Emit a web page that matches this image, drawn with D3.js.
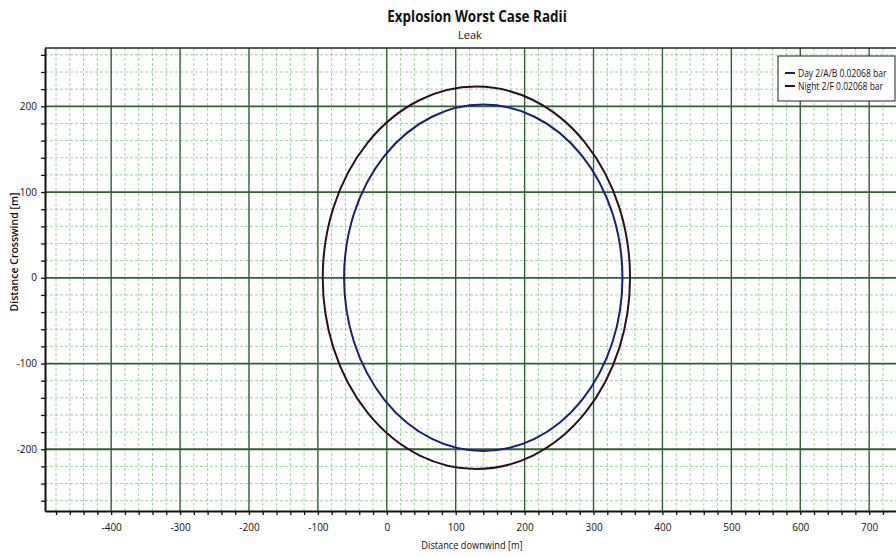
<!DOCTYPE html>
<html>
<head>
<meta charset="utf-8">
<script src="https://cdn.jsdelivr.net/npm/d3@7"></script>
<style>
  body { margin: 0; background: #fff; }
  text { font-family: "Open Sans", "DejaVu Sans", sans-serif; fill: #111; }
</style>
</head>
<body>
<svg width="896" height="557"></svg>
<script>
// Explosion worst case radii, two weather cases
const seriesNames = ["Day 2/A/B 0.02068 bar", "Night 2/F 0.02068 bar"];
const centerDownwind = [140, 130];
const centerCrosswind = [0, 0];
const radii = [202, 223];
const seriesColors = ["#1c1c7c", "#2c0f22"];

const xMajor = [-400, -300, -200, -100, 0, 100, 200, 300, 400, 500, 600, 700];
const yMajor = [-200, -100, 0, 100, 200];

const svg = d3.select("svg");
const plotLeft = 45, plotRight = 905, plotTop = 48, plotBottom = 511;

const x = d3.scaleLinear().domain([-496, 752]).range([plotLeft, plotRight]);
const y = d3.scaleLinear().domain([-272, 268]).range([plotBottom, plotTop]);

svg.append("clipPath").attr("id", "plot")
  .append("rect").attr("x", plotLeft).attr("y", plotTop)
  .attr("width", plotRight - plotLeft).attr("height", plotBottom - plotTop);

const minorX = d3.range(-480, 752, 20);
const minorY = d3.range(-260, 268, 20);

const grid = svg.append("g").attr("clip-path", "url(#plot)");

grid.selectAll(".mx").data(minorX.filter(d => d % 100 !== 0)).enter()
  .append("line")
  .attr("x1", d => x(d)).attr("x2", d => x(d))
  .attr("y1", plotTop).attr("y2", plotBottom)
  .attr("stroke", "#9ed49e").attr("stroke-width", 1)
  .attr("stroke-dasharray", "3,2");

grid.selectAll(".my").data(minorY.filter(d => d % 100 !== 0)).enter()
  .append("line")
  .attr("y1", d => y(d)).attr("y2", d => y(d))
  .attr("x1", plotLeft).attr("x2", plotRight)
  .attr("stroke", "#9ed49e").attr("stroke-width", 1)
  .attr("stroke-dasharray", "3,2");

grid.selectAll(".Mx").data(xMajor).enter()
  .append("line")
  .attr("x1", d => x(d)).attr("x2", d => x(d))
  .attr("y1", plotTop).attr("y2", plotBottom)
  .attr("stroke", "#2f5f33").attr("stroke-width", 1.4);

grid.selectAll(".My").data(yMajor).enter()
  .append("line")
  .attr("y1", d => y(d)).attr("y2", d => y(d))
  .attr("x1", plotLeft).attr("x2", plotRight)
  .attr("stroke", "#2f5f33").attr("stroke-width", 1.8);

// radii
grid.selectAll(".radius").data(seriesNames).enter()
  .append("ellipse")
  .attr("cx", (d, i) => x(centerDownwind[i]))
  .attr("cy", (d, i) => y(centerCrosswind[i]))
  .attr("rx", (d, i) => x(centerDownwind[i] + radii[i]) - x(centerDownwind[i]))
  .attr("ry", (d, i) => y(centerCrosswind[i]) - y(centerCrosswind[i] + radii[i]))
  .attr("fill", "none")
  .attr("stroke", (d, i) => seriesColors[i])
  .attr("stroke-width", 2);

// border
svg.append("line").attr("x1", plotLeft).attr("x2", plotRight).attr("y1", plotTop).attr("y2", plotTop)
  .attr("stroke", "#222").attr("stroke-width", 1.5);

const fmt = d => (d % 100 === 0 ? String(d) : "");

const xAxis = svg.append("g")
  .attr("transform", `translate(0,${plotBottom})`)
  .call(d3.axisBottom(x).tickValues(minorX).tickSize(4).tickSizeOuter(0).tickFormat(fmt));

const yAxis = svg.append("g")
  .attr("transform", `translate(${plotLeft},0)`)
  .call(d3.axisLeft(y).tickValues(minorY).tickSize(4).tickSizeOuter(0).tickFormat(fmt));

[xAxis, yAxis].forEach(a => {
  a.select(".domain").attr("stroke", "#111").attr("stroke-width", 2);
  a.selectAll(".tick line").attr("stroke", "#111").attr("stroke-width", 1.3);
  a.selectAll(".tick text").attr("font-size", 10).attr("font-family", "Open Sans, sans-serif").attr("fill", "#111");
});
xAxis.selectAll(".tick text").attr("dy", "1.25em");
yAxis.selectAll(".tick text").attr("dx", "-1px");

// titles (the source font is narrow, so squeeze horizontally)
svg.append("text").attr("transform", "translate(477,22) scale(0.84,1)")
  .attr("text-anchor", "middle")
  .attr("font-size", 16).attr("font-weight", "bold")
  .text("Explosion Worst Case Radii");

svg.append("text").attr("x", 470).attr("y", 39).attr("text-anchor", "middle")
  .attr("font-size", 11).text("Leak");

svg.append("text").attr("transform", "translate(472,549) scale(0.88,1)")
  .attr("text-anchor", "middle").attr("font-size", 10.5)
  .text("Distance downwind [m]");

svg.append("text").attr("transform", "translate(18,252) rotate(-90)")
  .attr("text-anchor", "middle").attr("font-size", 10.5)
  .attr("font-weight", "600")
  .text("Distance Crosswind [m]");

// legend
const legend = svg.append("g").attr("transform", "translate(778,56)");
legend.append("rect").attr("width", 117).attr("height", 45)
  .attr("fill", "#fff").attr("stroke", "#222").attr("stroke-width", 1);

const item = legend.selectAll(".item").data(seriesNames).enter()
  .append("g")
  .attr("transform", (d, i) => `translate(0,${17 + i * 13})`);

item.append("line").attr("x1", 7).attr("x2", 17).attr("y1", 0).attr("y2", 0)
  .attr("stroke", (d, i) => seriesColors[i]).attr("stroke-width", 2);

item.append("text").attr("transform", "translate(20,3.5) scale(0.85,1)")
  .attr("font-size", 10)
  .text(d => d);
</script>
</body>
</html>
